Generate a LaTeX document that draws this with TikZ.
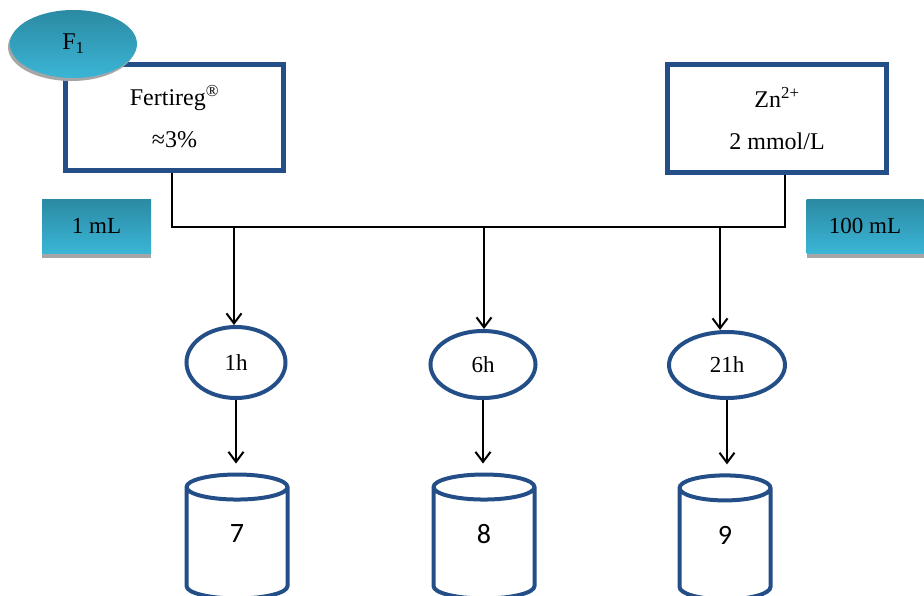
\documentclass[tikz,border=0pt]{standalone}
\usepackage{fontspec}
\setmainfont{Liberation Serif}
\newfontfamily\numfont{Carlito}
\usetikzlibrary{shapes.geometric,shadows,arrows.meta}
\definecolor{boxblue}{RGB}{35,78,135}
\definecolor{tealtop}{RGB}{43,138,163}
\definecolor{tealbot}{RGB}{59,181,214}
\definecolor{shadegray}{RGB}{166,166,166}

\begin{document}
\begin{tikzpicture}[x=1pt,y=-1pt,
	srcbox/.style={draw=boxblue, line width=5pt, minimum width=218pt, minimum height=106pt, align=center, font=\fontsize{24}{42}\selectfont},
	volbox/.style={top color=tealtop, bottom color=tealbot, minimum height=54pt, font=\fontsize{23}{28}\selectfont, drop shadow={shadow xshift=0pt, shadow yshift=-5pt, fill=shadegray, opacity=1}},
	timeell/.style={ellipse, draw=boxblue, line width=4pt, inner sep=0pt, font=\fontsize{23}{28}\selectfont},
	vessel/.style={cylinder, shape border rotate=90, aspect=1.2, draw=boxblue, line width=4pt, minimum width=101pt, minimum height=124pt, text depth=24pt, font=\numfont\fontsize{28}{34}\selectfont},
	flow/.style={line width=2pt, -{Straight Barb[length=10pt,width=15pt]}}]
	\clip (0,0) rectangle (924,595);

	\node[srcbox] (fert) at (174.5,117) {Fertireg\textsuperscript{\textregistered}\\≈3\%};
	\node[srcbox, minimum width=219pt, minimum height=108pt] (zn) at (777,118.5) {Zn\textsuperscript{2+}\\2 mmol/L};
	\node[ellipse, minimum width=127pt, minimum height=68pt, top color=tealtop, bottom color=tealbot, drop shadow={shadow xshift=-2pt, shadow yshift=-3pt, fill=shadegray, opacity=1}, font=\fontsize{24}{28}\selectfont] (f1) at (73.5,44) {F\textsubscript{1}};

	\node[volbox, minimum width=109pt] (v1) at (96.5,226) {1 mL};
	\node[volbox, minimum width=117pt] (v2) at (865,226) {100 mL};

	\node[timeell, minimum width=99pt, minimum height=71pt] (t1) at (236,362.5) {1h};
	\node[timeell, minimum width=105pt, minimum height=67pt] (t2) at (483,364.5) {6h};
	\node[timeell, minimum width=116pt, minimum height=66pt] (t3) at (727,365) {21h};

	\node[vessel] (c7) at (237,546) {7};
	\node[vessel] (c8) at (484,546) {8};
	\node[vessel, minimum width=91pt] (c9) at (725,547) {9};

	\coordinate (jl) at (172,227);
	\coordinate (jr) at (785,227);
	\coordinate (b1) at (234,227);
	\coordinate (b2) at (484,227);
	\coordinate (b3) at (720,227);

	\draw[line width=2pt] (fert.south -| jl) -- (jl) -- (jr) -- (zn.south -| jr);
	\draw[flow] (b1) -- (b1 |- t1.north);
	\draw[flow] (b2) -- (b2 |- t2.north);
	\draw[flow] (b3) -- (b3 |- t3.north);

	\draw[flow, shorten >=9pt] (t1.south) -- (t1.south |- c7.north);
	\draw[flow, shorten >=9pt] (t2.south) -- (t2.south |- c8.north);
	\draw[flow, shorten >=9pt] (t3.south) -- (t3.south |- c9.north);
\end{tikzpicture}
\end{document}
